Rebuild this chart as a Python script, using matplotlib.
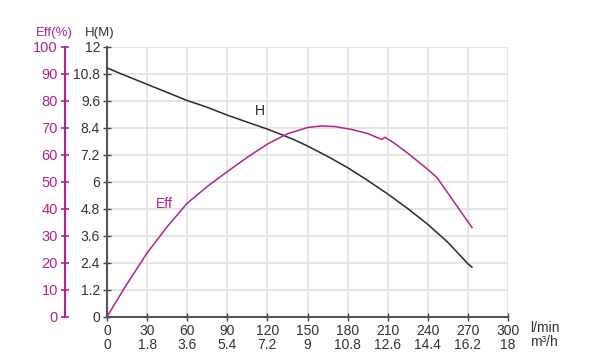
import matplotlib
matplotlib.use("Agg")
from matplotlib import pyplot as plt

plt.rcParams['font.family'] = ['Liberation Sans', 'DejaVu Sans']

# flow (l/min) ticks and the matching m3/h labels
flow_ticks = [0, 30, 60, 90, 120, 150, 180, 210, 240, 270, 300]
m3h_labels = ['0', '1.8', '3.6', '5.4', '7.2', '9', '10.8', '12.6', '14.4', '16.2', '18']
head_ticks = [0, 1.2, 2.4, 3.6, 4.8, 6, 7.2, 8.4, 9.6, 10.8, 12]
head_labels = ['0', '1.2', '2.4', '3.6', '4.8', '6', '7.2', '8.4', '9.6', '10.8', '12']
eff_ticks = [0, 10, 20, 30, 40, 50, 60, 70, 80, 90, 100]

# H curve
h_q = [0, 10, 30, 60, 75, 90, 120, 130, 140, 150, 165, 180, 195, 210, 225, 240, 255, 270, 273]
h_val = [11.05, 10.8, 10.32, 9.6, 9.3, 8.95, 8.33, 8.1, 7.86, 7.58, 7.12, 6.62, 6.05, 5.45, 4.8, 4.1, 3.3, 2.35, 2.2]

# efficiency curve
eff_q = [0, 13.5, 30, 45, 60, 75, 90, 105, 120, 135, 150, 160, 170, 182, 195, 205.5, 208, 215, 225, 240, 247, 260, 273]
eff_val = [0, 11, 23.6, 33.3, 42, 48.2, 53.7, 59, 63.9, 67.7, 70, 70.6, 70.4, 69.4, 67.8, 65.6, 66.4, 64.2, 60.5, 54.5, 51.4, 42.2, 33]

magenta = '#b0238e'
dark = '#333333'

fig = plt.figure(figsize=(5.9, 3.6), dpi=100)
ax = fig.add_axes([0.1814, 0.1203, 0.6797, 0.7505])

# grid
for q in flow_ticks[1:]:
    ax.axvline(q, color='#e3e3e3', lw=1.3, zorder=0)
for h in head_ticks[1:]:
    ax.axhline(h, color='#e3e3e3', lw=1.3, zorder=0)

ax.plot(h_q, h_val, color='#2a2a2a', lw=1.1, zorder=3)

ax.set_xlim(0, 300)
ax.set_ylim(0, 12)
ax.set_xticks(flow_ticks)
ax.set_xticklabels([f"{q}\n{m}" for q, m in zip(flow_ticks, m3h_labels)],
                   fontsize=10, color=dark, linespacing=1.05)
ax.set_yticks(head_ticks)
ax.set_yticklabels(head_labels, fontsize=10, color=dark)
ax.tick_params(axis='both', direction='inout', length=6, width=1, color='#444444', pad=2)
for s in ['top', 'right']:
    ax.spines[s].set_visible(False)
for s in ['left', 'bottom']:
    ax.spines[s].set_color('#555555')
    ax.spines[s].set_linewidth(1.5)

# efficiency axis on the far left
ax2 = ax.twinx()
ax2.plot(eff_q, eff_val, color=magenta, lw=1.1, zorder=3)
ax2.set_ylim(0, 100)
ax2.yaxis.set_ticks_position('left')
ax2.spines['left'].set_position(('axes', -0.105))
ax2.spines['left'].set_color(magenta)
ax2.spines['left'].set_linewidth(1.5)
for s in ['top', 'right', 'bottom']:
    ax2.spines[s].set_visible(False)
ax2.set_yticks(eff_ticks)
ax2.set_yticklabels([str(e) for e in eff_ticks], fontsize=10.5, color=magenta)
ax2.tick_params(axis='y', direction='inout', length=6, width=1.2, color=magenta, pad=2)

# axis titles and curve labels
fig.text(54 / 590, 1 - 33 / 360, 'Eff(%)', color=magenta, fontsize=9.5, ha='center', va='center')
fig.text(100 / 590, 1 - 33 / 360, 'H(M)', color=dark, fontsize=9.5, ha='center', va='center')
fig.text(530 / 590, 1 - 328 / 360, 'l/min', color=dark, fontsize=10, ha='left', va='center')
fig.text(530 / 590, 1 - 342 / 360, 'm\u00b3/h', color=dark, fontsize=10, ha='left', va='center')
ax.text(114, 9.13, 'H', color='#222222', fontsize=10, ha='center', va='center')
ax.text(43, 5.0, 'Eff', color=magenta, fontsize=10, ha='center', va='center')

plt.savefig('out.png', dpi=100)
